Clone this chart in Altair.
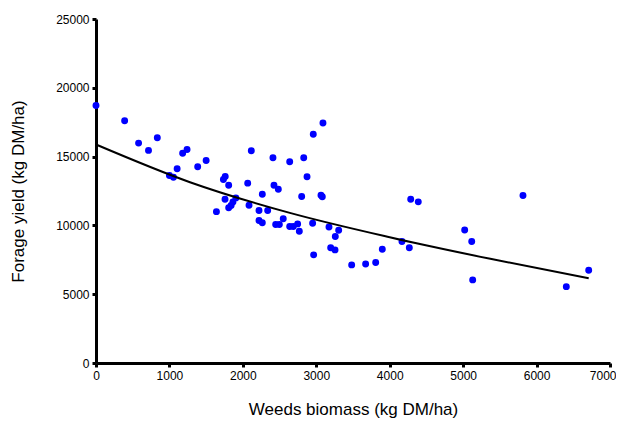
import altair as alt
import pandas as pd

weeds = [0, 390, 580, 715, 835, 1000, 1055, 1105, 1180, 1240, 1385, 1500,
         1640, 1735, 1760, 1757, 1807, 1807, 1840, 1865, 1905, 2066, 2084,
         2115, 2220, 2220, 2265, 2265, 2338, 2410, 2424, 2447, 2483, 2497,
         2550, 2638, 2638, 2687, 2746, 2769, 2801, 2829, 2874, 2950, 2959,
         2964, 3064, 3082, 3091, 3173, 3196, 3255, 3259, 3305, 3482, 3672,
         3809, 3899, 4167, 4267, 4286, 4389, 5021, 5117, 5130, 5815, 6405, 6710]
forage = [18720, 17600, 15980, 15450, 16370, 13630, 13500, 14120, 15250, 15520,
          14260, 14720, 11000, 13340, 13560, 11900, 12920, 11280, 11450, 11700,
          12000, 13070, 11470, 15420, 11080, 10350, 12270, 10190, 11080, 14910,
          12920, 10060, 12630, 10060, 10480, 14620, 9920, 9920, 10110, 9580,
          12100, 14910, 13530, 10160, 16630, 7860, 12190, 12080, 17440, 9890,
          8370, 8220, 9190, 9650, 7130, 7200, 7300, 8270, 8830, 8370, 11900,
          11710, 9670, 8830, 6040, 12170, 5550, 6740]

# fitted curve
fit_weeds = [0, 1280, 2640, 4000, 5370, 6710]
fit_forage = [15880, 13140, 10910, 9140, 7570, 6160]

df = pd.DataFrame({"weeds": weeds, "forage": forage})
df_fit = pd.DataFrame({"weeds": fit_weeds, "forage": fit_forage})

xscale = alt.Scale(domain=[0, 7000], nice=False, zero=True)
yscale = alt.Scale(domain=[0, 25000], nice=False, zero=True)

xaxis = alt.Axis(title="Weeds biomass (kg DM/ha)", values=list(range(0, 7001, 1000)),
                 grid=False, format="d", labelFlush=False, labelOverlap=False,
                 labelAlign=alt.ExprRef("datum.value == 7000 ? 'right' : 'center'"),
                 labelOffset=alt.ExprRef("datum.value == 7000 ? 6 : 0"))
yaxis = alt.Axis(title="Forage  yield (kg DM/ha)", values=list(range(0, 25001, 5000)),
                 grid=False, format="d", labelFlush=False, labelOverlap=False)

points = alt.Chart(df).mark_circle(size=48, color="#0000FF", opacity=1).encode(
    x=alt.X("weeds:Q", scale=xscale, axis=xaxis),
    y=alt.Y("forage:Q", scale=yscale, axis=yaxis),
)

fit = alt.Chart(df_fit).mark_line(color="black", strokeWidth=2,
                                  interpolate="monotone").encode(
    x=alt.X("weeds:Q", scale=xscale),
    y=alt.Y("forage:Q", scale=yscale),
)

chart = (points + fit).properties(
    width=514, height=344,
    autosize=alt.AutoSizeParams(type="none"),
    padding={"left": 88, "top": 11, "right": 6, "bottom": 55},
).configure_view(stroke=None).configure_axis(
    domainColor="black", domainWidth=3, tickColor="black", tickWidth=3,
    tickSize=4, labelFont="Liberation Sans", labelFontSize=12, labelColor="black",
    titleFont="Liberation Sans", titleFontSize=17, titleFontWeight="normal",
    titleColor="black", labelPadding=3,
).configure_axisX(titlePadding=20).configure_axisY(titlePadding=28)

chart.save("out.html", embed_options={"renderer": "svg", "actions": False})
